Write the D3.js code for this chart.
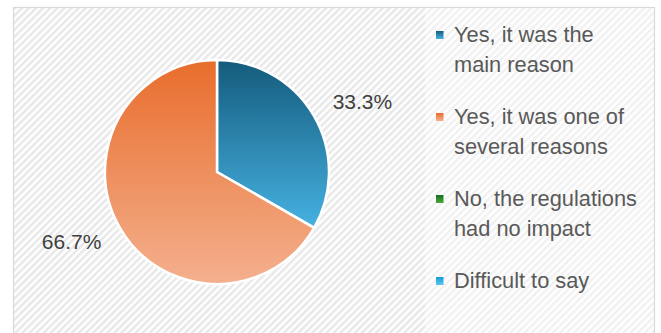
<!DOCTYPE html>
<html>
<head>
<meta charset="utf-8">
<script src="https://cdn.jsdelivr.net/npm/d3@7"></script>
<style>
  body { margin: 0; background: #fff; }
  svg text { font-family: "Liberation Sans", Arial, sans-serif; }
</style>
</head>
<body>
<div id="chart"></div>
<script>
// answers (share of respondents, %)
var categories = [
  "Yes, it was the main reason",
  "Yes, it was one of several reasons",
  "No, the regulations had no impact",
  "Difficult to say"
];
var legendLines = [
  ["Yes, it was the", "main reason"],
  ["Yes, it was one of", "several reasons"],
  ["No, the regulations", "had no impact"],
  ["Difficult to say"]
];
var shares = [33.3, 66.7, 0, 0];
var colorsTop = ["#145b7c", "#e86d2c", "#196b24", "#0f9ed5"];
var colorsBottom = ["#46b1e1", "#f4b08e", "#47ad3a", "#5cc6f0"];

var width = 661, height = 333;
var cx = 217, cy = 172, radius = 112;

var svg = d3.select("#chart").append("svg")
    .attr("width", width)
    .attr("height", height);

var defs = svg.append("defs");

// diagonal hatch background
var pat = defs.append("pattern")
    .attr("id", "hatch")
    .attr("patternUnits", "userSpaceOnUse")
    .attr("width", 5)
    .attr("height", 5)
    .attr("patternTransform", "rotate(-45)");
pat.append("rect").attr("width", 5).attr("height", 5).attr("fill", "#ffffff");
pat.append("rect").attr("width", 5).attr("height", 2.5).attr("fill", "#e8e8e8");

categories.forEach(function (c, i) {
  var g = defs.append("linearGradient")
      .attr("id", "grad" + i)
      .attr("x1", 0).attr("y1", 0).attr("x2", 0).attr("y2", 1);
  g.append("stop").attr("offset", "0%").attr("stop-color", colorsTop[i]);
  g.append("stop").attr("offset", "100%").attr("stop-color", colorsBottom[i]);
});

svg.append("rect")
    .attr("x", 13.5).attr("y", 7.5)
    .attr("width", 641).attr("height", 340)
    .attr("fill", "url(#hatch)")
    .attr("stroke", "#d9d9d9")
    .attr("stroke-width", 1.2);

// lighter area behind legend
svg.append("rect")
    .attr("x", 425).attr("y", 8)
    .attr("width", 229).attr("height", 330)
    .attr("fill", "#ffffff")
    .attr("fill-opacity", 0.4);

var pie = d3.pie().sort(null).value(function (d) { return d; });
var arcs = pie(shares);

var arc = d3.arc().innerRadius(0).outerRadius(radius);

var g = svg.append("g").attr("transform", "translate(" + cx + "," + cy + ")");

g.selectAll("path")
    .data(arcs.filter(function (d) { return d.value > 0; }))
    .enter()
    .append("path")
    .attr("d", arc)
    .attr("fill", function (d) { return "url(#grad" + d.index + ")"; })
    .attr("stroke", "#ffffff")
    .attr("stroke-width", 2.5)
    .attr("stroke-linejoin", "miter");

// data labels, placed outside the pie
g.selectAll("text.lbl")
    .data(arcs.filter(function (d) { return d.value > 0; }))
    .enter()
    .append("text")
    .attr("class", "lbl")
    .attr("x", function (d) {
      var a = (d.startAngle + d.endAngle) / 2;
      return 168 * Math.sin(a);
    })
    .attr("y", function (d) {
      var a = (d.startAngle + d.endAngle) / 2;
      return -140 * Math.cos(a);
    })
    .attr("dy", "0.35em")
    .attr("text-anchor", "middle")
    .attr("fill", "#404040")
    .style("font-size", "21px")
    .text(function (d) { return d.value.toFixed(1) + "%"; });

// legend
var legend = svg.append("g").attr("transform", "translate(436,42)");
var item = legend.selectAll("g")
    .data(categories)
    .enter()
    .append("g")
    .attr("transform", function (d, i) { return "translate(0," + (i * 82) + ")"; });

item.append("rect")
    .attr("x", 0).attr("y", -11)
    .attr("width", 7.5).attr("height", 8)
    .attr("fill", function (d, i) { return "url(#grad" + i + ")"; });

item.append("text")
    .attr("x", 18)
    .attr("fill", "#595959")
    .style("font-size", "21.8px")
    .selectAll("tspan")
    .data(function (d, i) { return legendLines[i]; })
    .enter()
    .append("tspan")
    .attr("x", 18)
    .attr("y", function (d, j) { return j * 29.5; })
    .text(function (d) { return d; });
</script>
</body>
</html>
